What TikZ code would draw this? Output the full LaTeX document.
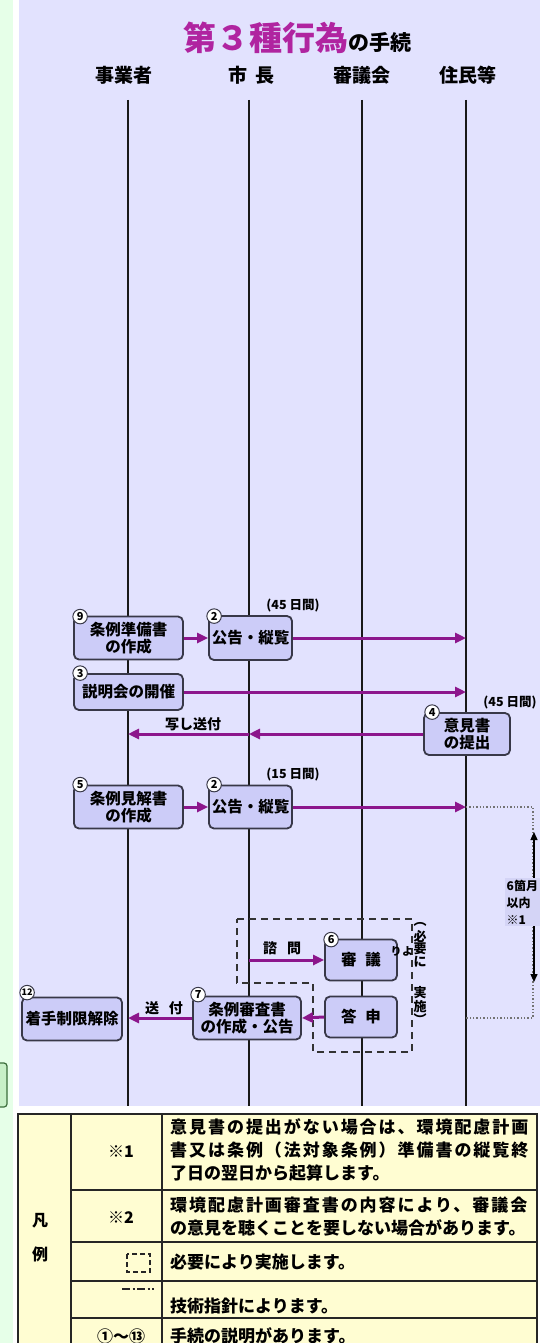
\documentclass[tikz,border=0pt]{standalone}
\usepackage{fontspec}
\usepackage{graphicx}
\setmainfont{Noto Sans CJK JP}
\usetikzlibrary{arrows.meta}
\definecolor{bgL}{RGB}{226,226,254}
\definecolor{bgG}{RGB}{230,255,232}
\definecolor{boxF}{RGB}{204,204,248}
\definecolor{boxD}{RGB}{56,56,72}
\definecolor{arr}{RGB}{140,22,140}
\definecolor{ttl}{RGB}{176,36,160}
\definecolor{legY}{RGB}{255,253,210}
\definecolor{lblF}{RGB}{212,212,246}
\definecolor{tabG}{RGB}{200,240,200}
\definecolor{tabGD}{RGB}{60,110,60}
\newcommand{\myfs}[2]{\fontsize{#1}{#2}\selectfont}
\begin{document}
\begin{tikzpicture}[x=1pt,y=-1pt,
 life/.style={line width=2.8pt, draw=black!90},
 proc/.style={draw=boxD, line width=1.8pt, fill=boxF, rounded corners=5pt, align=center, inner sep=0pt, font=\bfseries\myfs{15.5}{16.5}},
 numc/.style={circle, draw=boxD, fill=white, line width=1pt, minimum size=14.5pt, inner sep=0pt, font=\bfseries\myfs{11}{11}},
 flow/.style={draw=arr, line width=3pt, -{Triangle[length=11pt,width=10pt]}},
 hdr/.style={font=\bfseries\myfs{19}{19}, inner sep=0pt},
 lbl/.style={font=\bfseries\myfs{14}{14}, inner sep=0pt},
 days/.style={font=\bfseries\myfs{12.5}{12.5}, inner sep=0pt},
 vtxt/.style={font=\bfseries\myfs{13}{13}, inner sep=0pt},
 legt/.style={font=\bfseries\myfs{17}{17}, inner sep=0pt, anchor=west},
 legc/.style={font=\bfseries\myfs{16}{16}, inner sep=0pt},
 tgrid/.style={draw=black!85, line width=1.6pt},
 dbox/.style={draw=black!80, line width=2pt, dash pattern=on 7pt off 5pt},
 dotbr/.style={draw=black!55, line width=1.4pt, dotted},
 vdbl/.style={draw=black, line width=1.4pt, {Triangle[length=8pt,width=7pt]}-{Triangle[length=8pt,width=7pt]}},
]
\useasboundingbox (0,0) rectangle (540,1343);
% backgrounds
\fill[bgG] (0,0) rectangle (13,1343);
\fill[bgL] (19,0) rectangle (540,1106);
\draw[fill=tabG, draw=tabGD, line width=1.2pt, rounded corners=3pt] (-8,1063) rectangle (7,1107);

% title and headers
\node[inner sep=0pt, font=\bfseries] (title) at (297,38) {{\color{ttl}\myfs{33}{33}第３種行為}{\myfs{21}{21}の手続}};
\node[hdr] (h1) at (124,75) {事業者};
\node[hdr] (h2) at (251,75) {市\hspace{8pt}長};
\node[hdr] (h3) at (362,75) {審議会};
\node[hdr] (h4) at (468,75) {住民等};

% lifelines
\coordinate (L1t) at (128,100); \coordinate (L1b) at (128,1106);
\coordinate (L2t) at (249,100); \coordinate (L2b) at (249,1106);
\coordinate (L3t) at (362,100); \coordinate (L3b) at (362,1106);
\coordinate (L4t) at (466,100); \coordinate (L4b) at (466,1106);
\draw[life] (L1t) -- (L1b);
\draw[life] (L2t) -- (L2b);
\draw[life] (L3t) -- (L3b);
\draw[life] (L4t) -- (L4b);

% dashed "as needed" region
\draw[dbox] (237,919) -- (412,919) -- (412,1052) -- (313,1052) -- (313,983) -- (237,983) -- cycle;

% boxes
\node[proc, minimum width=109pt, minimum height=43pt] (b9) at (128.5,638) {条例準備書\\の作成};
\node[proc, minimum width=83pt, minimum height=44pt] (b2a) at (250.5,638) {公告・縦覧};
\node[proc, minimum width=109pt, minimum height=36pt] (b3) at (128.5,692) {説明会の開催};
\node[proc, minimum width=86pt, minimum height=42pt] (b4) at (467,734) {意見書\\の提出};
\node[proc, minimum width=109pt, minimum height=43pt] (b5) at (128.5,807) {条例見解書\\の作成};
\node[proc, minimum width=83pt, minimum height=43pt] (b2b) at (250.5,807) {公告・縦覧};
\node[proc, minimum width=72pt, minimum height=41pt] (b6) at (361,960) {審\hspace{9pt}議};
\node[proc, minimum width=72pt, minimum height=41pt] (bT) at (361,1017) {答\hspace{9pt}申};
\node[proc, minimum width=108pt, minimum height=43pt] (b7) at (247,1018) {条例審査書\\の作成・公告};
\node[proc, minimum width=100pt, minimum height=43pt] (b12) at (72,1019) {着手制限解除};

% dotted bracket
\coordinate (brA) at (533,807);
\coordinate (brB) at (533,1018);
\coordinate (brC) at (466,1018);
\draw[dotbr] (b2b.east -| L4t) -- (brA) -- (brB) -- (brC);

% arrows
\draw[flow] (b9.east) -- (b2a.west);
\draw[flow] (b2a.east) -- (b2a.east -| L4t);
\draw[flow] (b3.east) -- (b3.east -| L4t);
\draw[flow] (b4.west) -- (b4.west -| L2t);
\draw[flow] (b4.west -| L2t) -- (b4.west -| L1t);
\draw[flow] (b5.east) -- (b2b.west);
\draw[flow] (b2b.east) -- (b2b.east -| L4t);
\draw[flow] (b6.west -| L2t) -- (b6.west);
\draw[flow] (bT.west) -- (b7.east);
\draw[flow] (b7.west) -- (b7.west -| L1t);

% number circles
\node[numc] (n9) at ([shift={(7,1)}]b9.north west) {9};
\node[numc] (n2a) at ([shift={(6,1)}]b2a.north west) {2};
\node[numc] (n3) at ([shift={(7,0)}]b3.north west) {3};
\node[numc] (n4) at ([shift={(9,0)}]b4.north west) {4};
\node[numc] (n5) at ([shift={(7,0)}]b5.north west) {5};
\node[numc] (n2b) at ([shift={(6,0)}]b2b.north west) {2};
\node[numc] (n6) at ([shift={(7,1)}]b6.north west) {6};
\node[numc] (n7) at ([shift={(6,-1)}]b7.north west) {7};
\node[numc, font=\bfseries\myfs{9}{9}] (n12) at ([shift={(6,-4)}]b12.north west) {12};

% labels
\node[days] (d1) at (293,606) {(45 日間)};
\node[days] (d2) at (510,703) {(45 日間)};
\node[days] (d3) at (293,775) {(15 日間)};
\node[lbl] (t1) at (193,724) {写し送付};
\node[lbl] (t2) at (282,948) {諮\hspace{10pt}問};
\node[lbl] (t3) at (164,1008) {送\hspace{10pt}付};

% vertical note
\node[vtxt] (v1) at (420,924) {︵};
\node[vtxt] (v2) at (420,936) {必};
\node[vtxt] (v3) at (420,949) {要};
\node[vtxt] (v4) at (420,962) {に};
\node[vtxt, font=\bfseries\myfs{11}{11}] (v5) at (396,951) {り};
\node[vtxt, font=\bfseries\myfs{11}{11}] (v6) at (407.5,951) {よ};
\node[vtxt] (v7) at (420,993) {実};
\node[vtxt] (v8) at (420,1007) {施};
\node[vtxt] (v9) at (420,1019) {︶};

% six-month span
\coordinate (vA) at (534,832);
\coordinate (vB) at (534,982);
\draw[vdbl] (vA) -- (vB);
\node[fill=lblF, anchor=north west, inner sep=1.5pt, align=left, font=\bfseries\myfs{12}{17}] (m6) at (505,878) {6箇月\\以内\\※1};

% legend table
\fill[legY] (18,1114) rectangle (537,1360);
\draw[tgrid, line width=2pt] (18,1114) rectangle (537,1360);
\draw[tgrid] (71,1114) -- (71,1360);
\draw[tgrid] (162,1114) -- (162,1360);
\draw[tgrid] (71,1190) -- (537,1190);
\draw[tgrid] (71,1242) -- (537,1242);
\draw[tgrid] (71,1281) -- (537,1281);
\draw[tgrid] (71,1318) -- (537,1318);
\node[legc] (k1) at (40,1221) {凡};
\node[legc] (k2) at (40,1254) {例};
\node[legc] (s1) at (121,1152) {※1};
\node[legc] (s2) at (121,1218) {※2};
\draw[draw=black!85, line width=1.8pt, dash pattern=on 5pt off 3pt] (127,1254) rectangle (150,1272);
\draw[draw=black!85, line width=2.2pt, dash pattern=on 8pt off 2.5pt on 2pt off 2.5pt] (122,1289) -- (154,1289);
\node[legc] (s5) at (121,1336) {①～⑬};
\node[legt] (r1a) at (170,1127) {\addfontfeature{LetterSpace=11.5}意見書の提出がない場合は、環境配慮計画};
\node[legt] (r1b) at (170,1150) {\addfontfeature{LetterSpace=11.5}書又は条例（法対象条例）準備書の縦覧終};
\node[legt] (r1c) at (170,1173) {了日の翌日から起算します。};
\node[legt] (r2a) at (170,1205) {\addfontfeature{LetterSpace=11.5}環境配慮計画審査書の内容により、審議会};
\node[legt] (r2b) at (170,1228) {の意見を聴くことを要しない場合があります。};
\node[legt] (r3) at (170,1262) {必要により実施します。};
\node[legt] (r4) at (170,1306) {技術指針によります。};
\node[legt] (r5) at (170,1336) {手続の説明があります。};
\end{tikzpicture}
\end{document}
